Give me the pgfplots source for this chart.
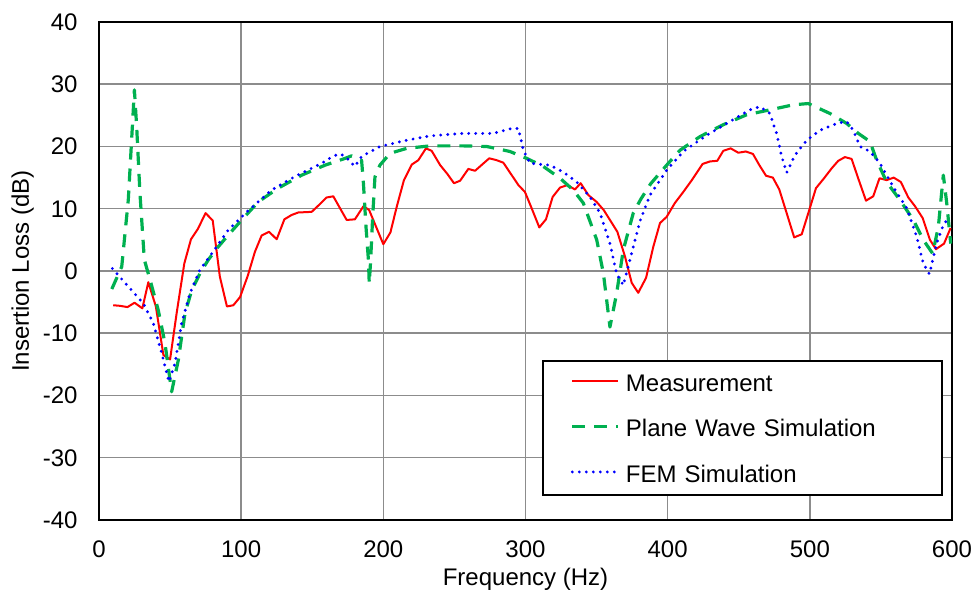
\documentclass[border=0pt]{standalone}
\usepackage{fontspec}
\setmainfont{Liberation Sans}
\usepackage{pgfplots}
\pgfplotsset{compat=1.18}

\definecolor{pwgreen}{RGB}{0,176,80}
\definecolor{gridgray}{RGB}{140,140,140}

\newcommand{\lblfont}{\fontsize{12}{14}\selectfont}

\begin{document}
\begin{tikzpicture}
\useasboundingbox (-49.5pt,-39.5pt) rectangle (437.5pt,260pt);
\begin{axis}[
	scale only axis,
	width=426.5pt, height=249pt,
	xmin=0, xmax=600, ymin=-40, ymax=40,
	xtick={0,100,...,600},
	ytick={-40,-30,...,40},
	grid=major,
	grid style={line width=0.75pt, gridgray},
	major tick length=0pt,
	axis line style={line width=1pt, black},
	/pgf/number format/assume math mode=true,
	tick label style={font=\lblfont},
	xticklabel style={anchor=north, inner sep=0pt, yshift=-10.3pt},
	yticklabel style={anchor=east, inner sep=0pt, xshift=-10.5pt},
	xlabel={Frequency (Hz)},
	ylabel={Insertion Loss (dB)},
	every axis x label/.style={at={([yshift=-23.8pt]axis description cs:0.5,0)}, anchor=north, inner sep=0pt, font=\lblfont},
	every axis y label/.style={at={([xshift=-44pt]axis description cs:0,0.5)}, rotate=90, anchor=north, inner sep=0pt, font=\lblfont},
	legend style={at={(0.9894,0.3213)}, anchor=north east, draw=black, line width=1pt,
		inner xsep=14pt, inner ysep=6.5pt, font=\lblfont,
		/tikz/column sep=3pt, /tikz/row sep=14.15pt,
		nodes={inner sep=0pt, text height=8.6pt, text depth=0pt, text width=144pt, align=left}},
	legend cell align={left},
	legend image code/.code={\draw[#1] (0pt,0.8pt) -- (23pt,0.8pt);},
]
% Measurement
\addplot[red, line width=1pt, line join=round] coordinates {
(10,-5.5) (15,-5.6) (20,-5.8) (25,-5.1) (30.5,-6.0) (34.7,-1.8) (40,-5.7) (45.3,-13.5) (50,-14.2) (54.6,-6.8)
(60,1.2) (64.7,5.1) (69.4,6.7) (75,9.3) (80,8.1) (85,-0.9) (90,-5.7) (94.5,-5.5) (99.2,-4.2) (104.6,-0.8)
(109.7,3.1) (114.4,5.7) (119.6,6.3) (125,5.1) (130.4,8.3) (135.5,9.0) (140.2,9.4) (149.6,9.5) (154.7,10.6) (160,11.8)
(164.8,12.0) (174.2,8.2) (180,8.3) (186,10.4) (190,9.8) (200,4.3) (205,6.2) (209.4,10.3) (214.5,14.6) (220,17.1)
(224.6,17.8) (230,19.7) (234,19.3) (240,17.0) (245,15.6) (249.7,14.1) (254,14.5) (259.8,16.4) (264.5,16.1) (274.5,18.1)
(279.7,17.8) (284.4,17.4) (290.3,15.4) (295,13.8) (299.6,12.7) (304.3,10.1) (309.7,7.0) (314.4,8.3) (319.1,11.9) (324.3,13.4)
(329.4,13.8) (334.8,13.1) (338.8,14.1) (344.2,12.2) (350,11.1) (355,9.8) (359.4,8.2) (364.6,6.3) (370,2.3) (374.7,-1.9)
(379.3,-3.5) (384.8,-1.1) (389.9,3.9) (394.6,7.7) (399.3,8.7) (405,10.9) (411,12.7) (417,14.6) (424.6,17.2) (429.8,17.6)
(434.9,17.7) (439.1,19.3) (444.3,19.7) (449.7,19.0) (455,19.2) (460,18.8) (464.5,17.0) (469.2,15.3) (474,15.0) (478.5,13.1)
(483.7,9.3) (489,5.4) (494.3,5.9) (499.6,9.8) (504.3,13.3) (510,14.9) (515.4,16.5) (520,17.7) (524.7,18.3) (529.4,18.0)
(534,14.9) (539.5,11.3) (544.6,12.0) (549,14.9) (554,14.6) (559,15.0) (564,14.3) (569.3,11.8) (574,10.4) (579.4,8.5)
(584.5,5.0) (588.7,3.5) (594.4,4.4) (599,6.9)
};
\addlegendentry{Measurement}
% Plane wave simulation
\addplot[pwgreen, line width=1.6pt, dash pattern=on 6.5pt off 4.5pt, line join=round] coordinates {
(9,-2.9) (16,0.7) (20.6,11.4) (24.9,29.1) (26.5,23.2) (28.8,12.5) (31.9,1.8) (35.9,-1.4) (41.7,-6.3) (46.4,-11.6)
(51.1,-19.4) (55.8,-14.3) (60.5,-6.8) (65.2,-3.1) (71,-0.4) (76.9,1.8) (82.8,3.6) (91,5.8) (100.4,8.2) (112,11.1)
(126,13.3) (142.6,15.4) (159,17.0) (172,18.0) (177.7,18.5) (184.7,17.8) (186,14.1) (187.8,7.1) (189.5,1.8) (190.1,-2.0)
(191.1,1.8) (192.5,8.7) (194.1,15.1) (197.6,17.0) (204.7,18.9) (216.4,19.7) (232.8,20.1) (256,20.1) (272.7,20.0) (289,19.2)
(300.8,18.1) (312.5,16.8) (324.3,14.9) (333.6,13.0) (340.7,10.9) (350.1,5.0) (354.8,-0.4) (359.4,-9.0) (364.1,-3.6) (368.8,3.4)
(375.8,9.3) (381,11.5) (388,14.0) (399.3,17.0) (408.7,19.4) (422.8,21.6) (439.1,23.5) (455.6,25.1) (474.3,26.0) (488.4,26.7)
(498.9,26.9) (514.2,25.3) (525.9,23.7) (534.1,22.1) (542.3,20.8) (547,17.8) (554,14.3) (563.4,11.4) (572.8,8.2) (579.8,5.0)
(586.4,2.8) (590.4,7.1) (593.9,15.4) (596.3,10.9) (599.1,4.4)
};
\addlegendentry{Plane Wave Simulation}
% FEM simulation
\addplot[blue, line width=1.6pt, dash pattern=on 0pt off 3.5pt, line cap=round, line join=round] coordinates {
(9.4,0.4) (20.6,-2.5) (31.2,-5.2) (38.2,-8.4) (44.1,-13.2) (49.2,-17.8) (53.5,-14.8) (58.1,-8.4) (64,-3.6) (71,0.2)
(79.3,2.8) (91,6.6) (104,9.5) (121.4,13.0) (138,15.2) (156.6,17.3) (165,18.5) (170,18.8) (175,18.0) (180,16.8)
(184.7,18.4) (197.6,20.0) (216.4,21.0) (232.8,21.7) (256,22.1) (277.3,22.1) (290.3,22.9) (295,22.9) (298.5,19.4) (303.2,17.3)
(317.2,17.0) (326.6,15.9) (336,14.3) (345.4,11.9) (352.4,9.3) (359.4,4.4) (364.1,-0.4) (368.8,-2.3) (373.5,1.8) (380.5,8.0)
(387.6,12.2) (399.3,16.2) (411,19.2) (427.4,21.8) (443.8,24.0) (457.9,25.9) (464.9,26.4) (471.9,25.3) (476.6,22.1) (480.2,18.4)
(483.7,15.8) (489.5,18.6) (497.8,21.0) (507.2,22.6) (518.9,23.7) (525.9,24.0) (530.6,22.6) (535.3,20.0) (542.3,19.2) (549.3,17.3)
(558.7,13.5) (568.1,10.1) (575.2,5.5) (579.8,1.2) (584.1,-0.5) (589.2,4.4) (593.9,7.4) (598.1,8.7)
};
\addlegendentry{FEM Simulation}
\end{axis}
\end{tikzpicture}
\end{document}
